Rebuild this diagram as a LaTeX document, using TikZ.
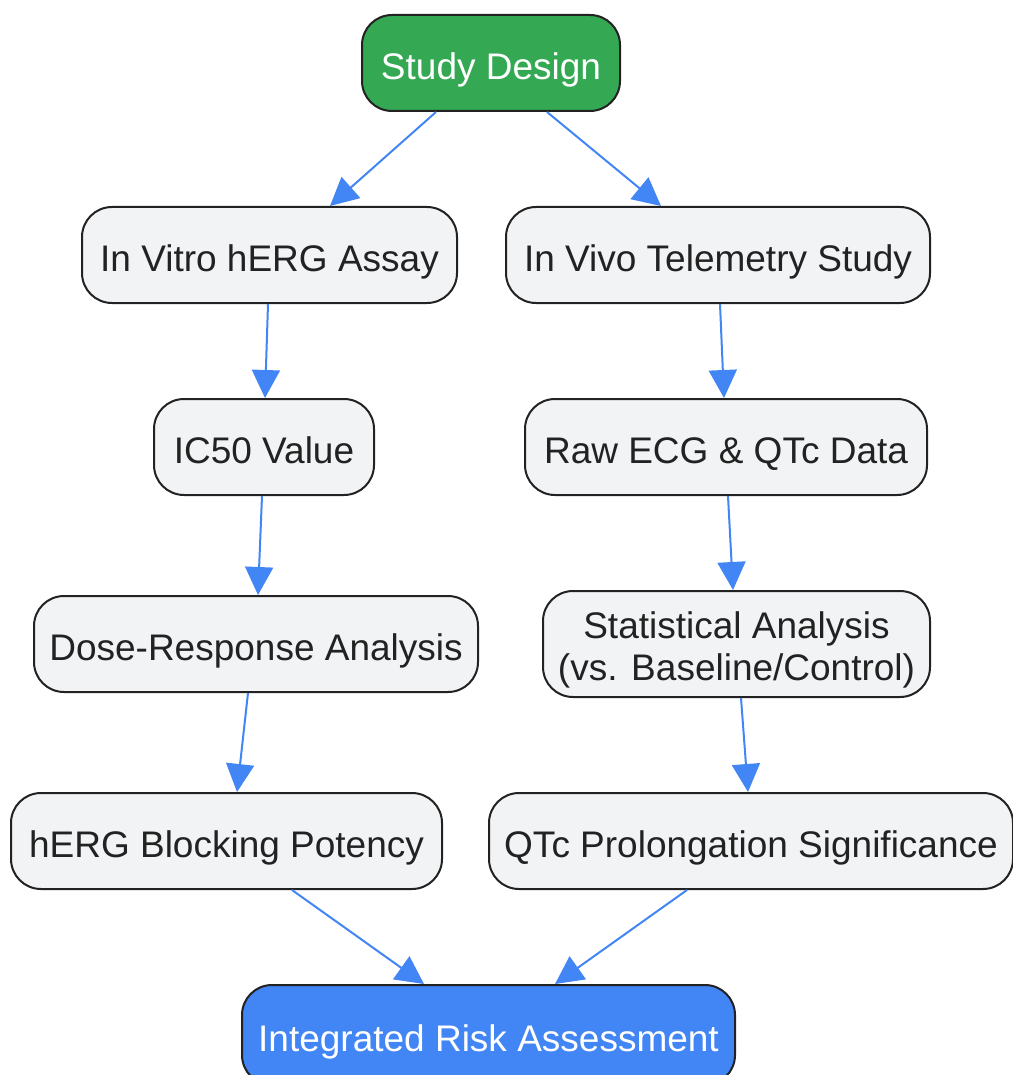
\documentclass[tikz,border=0pt]{standalone}
\usepackage{fontspec}
\setmainfont{Liberation Sans}
\usetikzlibrary{arrows.meta,calc}
\definecolor{gfill}{HTML}{F1F3F4}
\definecolor{ink}{HTML}{222222}
\definecolor{sdgreen}{HTML}{34A853}
\definecolor{rablue}{HTML}{4285F4}
\begin{document}
\begin{tikzpicture}[x=1pt,y=-1pt,
  box/.style={draw=ink, line width=2pt, rounded corners=30pt, fill=gfill,
    text=ink, font=\fontsize{37}{42}\selectfont, align=center,
    inner sep=0pt, minimum height=96pt, text height=40pt, text depth=7pt},
  conn/.style={draw=rablue, line width=2pt,
    -{Triangle[length=28pt,width=28pt]}}]
\useasboundingbox (0,0) rectangle (1012,1075);
\node[box, fill=sdgreen, text=white, minimum width=258pt] (sd) at (491,63) {Study Design};
\node[box, minimum width=375pt] (vitro) at (269.5,255) {In Vitro hERG Assay};
\node[box, minimum width=424pt] (vivo) at (718,255) {In Vivo Telemetry Study};
\node[box, minimum width=220pt] (ic50) at (264,447) {IC50 Value};
\node[box, minimum width=402pt] (raw) at (726,447) {Raw ECG \& QTc Data};
\node[box, minimum width=444pt] (dose) at (256,644) {Dose-Response Analysis};
\node[box, minimum width=387pt, minimum height=106pt, text height=80pt] (stat) at (736.5,644) {Statistical Analysis\\(vs. Baseline/Control)};
\node[box, minimum width=431pt] (herg) at (226.5,841) {hERG Blocking Potency};
\node[box, minimum width=524pt] (qtc) at (751,841) {QTc Prolongation Significance};
\node[box, fill=rablue, text=white, minimum width=493pt, minimum height=100pt] (ira) at (488.5,1035) {Integrated Risk Assessment};

\draw[conn] ($(sd.south)+(-55,0)$) -- ($(vitro.north)+(60.5,0)$);
\draw[conn] ($(sd.south)+(56,0)$) -- ($(vivo.north)+(-57,0)$);
\draw[conn] ($(vitro.south)+(-1.5,0)$) -- ($(ic50.north)+(1,0)$);
\draw[conn] ($(ic50.south)+(-2,0)$) -- ($(dose.north)+(2,0)$);
\draw[conn] ($(dose.south)+(-8,0)$) -- ($(herg.north)+(10.5,0)$);
\draw[conn] ($(herg.south)+(65.5,0)$) -- ($(ira.north)+(-64.5,0)$);
\draw[conn] ($(qtc.south)+(-64,0)$) -- ($(ira.north)+(66.5,0)$);
\draw[conn] ($(vivo.south)+(2,0)$) -- ($(raw.north)+(-2,0)$);
\draw[conn] ($(raw.south)+(2,0)$) -- ($(stat.north)+(-3.5,0)$);
\draw[conn] ($(stat.south)+(4.5,0)$) -- ($(qtc.north)+(-3,0)$);
\end{tikzpicture}
\end{document}
